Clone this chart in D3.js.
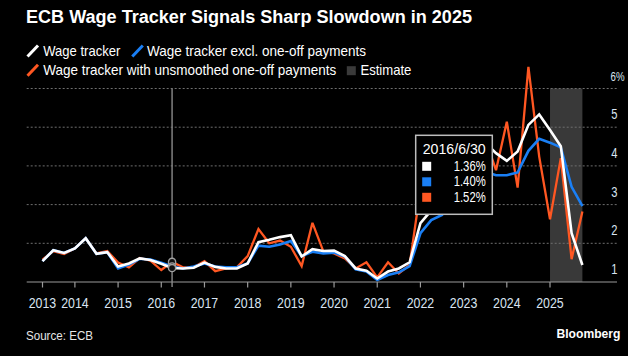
<!DOCTYPE html>
<html>
<head>
<meta charset="utf-8">
<script src="https://cdn.jsdelivr.net/npm/d3@7"></script>
<style>
  html, body { margin: 0; padding: 0; background: #000; }
  svg { display: block; }
  .lab { font-family: "Liberation Sans", Arial, sans-serif; }
</style>
</head>
<body>
<svg id="chart" width="628" height="356"></svg>
<script>
// ---------------- DATA ----------------
const quarters = [
  "2013Q2","2013Q3","2013Q4",
  "2014Q1","2014Q2","2014Q3","2014Q4",
  "2015Q1","2015Q2","2015Q3","2015Q4",
  "2016Q1","2016Q2","2016Q3","2016Q4",
  "2017Q1","2017Q2","2017Q3","2017Q4",
  "2018Q1","2018Q2","2018Q3","2018Q4",
  "2019Q1","2019Q2","2019Q3","2019Q4",
  "2020Q1","2020Q2","2020Q3","2020Q4",
  "2021Q1","2021Q2","2021Q3","2021Q4",
  "2022Q1","2022Q2","2022Q3","2022Q4",
  "2023Q1","2023Q2","2023Q3","2023Q4",
  "2024Q1","2024Q2","2024Q3","2024Q4",
  "2025Q1","2025Q2","2025Q3","2025Q4"
];
const wageTracker = [
  1.54,1.82,1.75,
  1.87,2.13,1.73,1.77,
  1.40,1.48,1.61,1.57,
  1.47,1.36,1.35,1.37,
  1.50,1.39,1.35,1.35,
  1.48,2.03,2.09,2.16,
  2.21,1.66,1.85,1.80,
  1.81,1.67,1.35,1.29,
  1.09,1.27,1.35,1.51,
  2.52,2.85,3.30,3.85,
  4.25,4.45,4.60,4.33,
  4.13,4.37,5.06,5.33,
  4.93,4.51,2.26,1.44
];
const wageExclOneOff = [
  1.54,1.82,1.75,
  1.87,2.13,1.73,1.77,
  1.35,1.45,1.60,1.58,
  1.50,1.40,1.35,1.40,
  1.48,1.40,1.38,1.38,
  1.48,1.94,1.91,1.97,
  2.06,1.67,1.78,1.74,
  1.76,1.66,1.33,1.27,
  1.05,1.18,1.25,1.41,
  2.26,2.60,2.73,3.10,
  3.40,3.60,3.85,3.76,
  3.76,3.83,4.39,4.70,
  4.60,4.48,3.46,2.96
];
const wageUnsmoothed = [
  1.58,1.80,1.72,
  1.87,2.13,1.74,1.80,
  1.50,1.38,1.62,1.55,
  1.31,1.52,1.38,1.38,
  1.54,1.28,1.35,1.38,
  1.67,2.37,2.00,2.07,
  1.91,1.41,2.53,1.80,
  1.74,1.61,1.35,1.51,
  1.12,1.51,1.22,1.44,
  3.40,3.00,3.70,4.30,
  3.90,4.50,4.70,3.89,
  5.14,3.44,6.56,4.24,
  2.62,4.20,1.59,2.82
];
const seriesNames = [
  "Wage tracker",
  "Wage tracker excl. one-off payments",
  "Wage tracker with unsmoothed one-off payments"
];
const estimateLabel = "Estimate";
const estimateStart = "2025Q1";
const xTickYears = [2013,2014,2015,2016,2017,2018,2019,2020,2021,2022,2023,2024,2025];
const yTicks = [1,2,3,4,5,6];
const hoverQuarter = "2016Q2";
const hoverDateLabel = "2016/6/30";
const titleText = "ECB Wage Tracker Signals Sharp Slowdown in 2025";
const sourceText = "Source: ECB";
const brandText = "Bloomberg";

// ---------------- HELPERS ----------------
const qToT = q => +q.slice(0,4) + (+q.slice(5) - 1) / 4;
const tVals = quarters.map(qToT);
// condense a text to a given width (reference uses a narrow font)
function fit(sel, w) {
  return sel.attr("textLength", w).attr("lengthAdjust", "spacingAndGlyphs");
}

const svg = d3.select("#chart");
const W = 628, H = 356;
svg.append("rect").attr("width", W).attr("height", H).attr("fill", "#000");

const plotLeft = 26.7, plotRight = 617;
const x = d3.scaleLinear()
  .domain([tVals[0], tVals[tVals.length - 1]])
  .range([42.5, 582.4]);
const y = d3.scaleLinear().domain([1, 6]).range([282, 88.5]);

const labelColor = "#d9e4f2";
const colors = ["#ffffff", "#1a7ff5", "#ff5722"];

// estimate shading
const estT0 = qToT(estimateStart);
svg.append("rect")
  .attr("x", x(estT0))
  .attr("y", y(6))
  .attr("width", x(tVals[tVals.length - 1]) - x(estT0))
  .attr("height", y(1) - y(6))
  .attr("fill", "#393939");

// gridlines
svg.append("g").selectAll("line")
  .data(yTicks.filter(v => v > 1))
  .join("line")
  .attr("x1", plotLeft).attr("x2", plotRight)
  .attr("y1", d => y(d)).attr("y2", d => y(d))
  .attr("stroke", "#6e6e6e")
  .attr("stroke-width", 1)
  .attr("stroke-dasharray", "2,2");

// y labels (right side, above gridlines)
const yl = svg.append("g").attr("class", "lab").attr("fill", labelColor);
yTicks.forEach(v => {
  const isTop = v === yTicks[yTicks.length - 1];
  fit(yl.append("text")
    .attr("x", isTop ? 610.5 : 611.3).attr("y", y(v) - 8)
    .attr("font-size", isTop ? 12 : 15)
    .text(isTop ? v + "%" : v), isTop ? 14 : 6.2);
});

// x axis
const xTickPos = xTickYears.map(yr => (yr === xTickYears[0] ? tVals[0] : yr));
const axisG = svg.append("g").attr("transform", `translate(0,${y(1)})`);
axisG.append("line")
  .attr("x1", plotLeft).attr("x2", plotRight)
  .attr("stroke", "#9a9a9a").attr("stroke-width", 1.2);
axisG.selectAll("line.tick")
  .data(xTickPos)
  .join("line").attr("class", "tick")
  .attr("x1", d => x(d)).attr("x2", d => x(d))
  .attr("y1", 0).attr("y2", 5.5)
  .attr("stroke", "#9a9a9a").attr("stroke-width", 1.2);
fit(axisG.selectAll("text")
  .data(xTickYears)
  .join("text")
  .attr("class", "lab")
  .attr("x", (d, i) => x(xTickPos[i]))
  .attr("y", 26)
  .attr("text-anchor", "middle")
  .attr("font-size", 15)
  .attr("fill", labelColor)
  .text(d => d), 27.5);

// hover vertical line
const hi = quarters.indexOf(hoverQuarter);
svg.append("line")
  .attr("x1", x(tVals[hi])).attr("x2", x(tVals[hi]))
  .attr("y1", y(6)).attr("y2", y(1) + 5)
  .attr("stroke", "#8a8a8a").attr("stroke-width", 1.4);

// lines
const allSeries = [wageTracker, wageExclOneOff, wageUnsmoothed];
const widths = [2.6, 2.6, 2.3];
const line = d3.line().x((d, i) => x(tVals[i])).y(d => y(d));
[2, 1, 0].forEach(k => {
  svg.append("path")
    .datum(allSeries[k])
    .attr("d", line)
    .attr("fill", "none")
    .attr("stroke", colors[k])
    .attr("stroke-width", widths[k])
    .attr("stroke-linejoin", "miter")
    .attr("stroke-miterlimit", 3);
});

// hover circles
[2, 1, 0].forEach(k => {
  svg.append("circle")
    .attr("cx", x(tVals[hi])).attr("cy", y(allSeries[k][hi]))
    .attr("r", 3.6)
    .attr("fill", "#111")
    .attr("stroke", "#a0a0a0")
    .attr("stroke-width", 1.4);
});

// tooltip
const tip = svg.append("g").attr("transform", "translate(415.7,135.3)");
tip.append("rect")
  .attr("width", 76.6).attr("height", 79)
  .attr("fill", "#000")
  .attr("stroke", "#bdbdbd").attr("stroke-width", 1.5);
fit(tip.append("text").attr("class", "lab")
  .attr("x", 7).attr("y", 19)
  .attr("font-size", 14.5).attr("fill", "#fff")
  .text(hoverDateLabel), 63);
allSeries.forEach((s, k) => {
  tip.append("rect")
    .attr("x", 6.5).attr("y", 26.5 + k * 15.5)
    .attr("width", 9).attr("height", 9)
    .attr("fill", colors[k]);
  fit(tip.append("text").attr("class", "lab")
    .attr("x", 70).attr("y", 35.5 + k * 15.5)
    .attr("text-anchor", "end")
    .attr("font-size", 14.5).attr("fill", "#fff")
    .text(s[hi].toFixed(2) + "%"), 32);
});

// title
fit(svg.append("text")
  .attr("x", 26).attr("y", 23)
  .attr("font-family", "'Liberation Sans', Arial, sans-serif")
  .attr("font-weight", "bold")
  .attr("font-size", 17.5)
  .attr("fill", "#fff")
  .text(titleText), 446);

// legend
const lg = svg.append("g").attr("class", "lab").attr("font-size", 14.5).attr("fill", "#fff");
function slash(x0, yBase, color) {
  lg.append("line")
    .attr("x1", x0).attr("y1", yBase)
    .attr("x2", x0 + 10.5).attr("y2", yBase - 11)
    .attr("stroke", color).attr("stroke-width", 3);
}
slash(27.5, 56.5, colors[0]);
fit(lg.append("text").attr("x", 43.3).attr("y", 56).text(seriesNames[0]), 77);
slash(132.3, 56.5, colors[1]);
fit(lg.append("text").attr("x", 147).attr("y", 56).text(seriesNames[1]), 219);
slash(27.5, 75.8, colors[2]);
fit(lg.append("text").attr("x", 43.3).attr("y", 75.3).text(seriesNames[2]), 293);
lg.append("rect").attr("x", 346.8).attr("y", 66.2).attr("width", 9).attr("height", 9).attr("fill", "#3a3a3a");
fit(lg.append("text").attr("x", 360.4).attr("y", 75.3).text(estimateLabel), 51);

// footer
fit(svg.append("text").attr("class", "lab")
  .attr("x", 26).attr("y", 340)
  .attr("font-size", 13.5).attr("fill", "#e6e6e6")
  .text(sourceText), 67);
fit(svg.append("text")
  .attr("x", 556.5).attr("y", 338)
  .attr("font-family", "'Liberation Sans', Arial, sans-serif")
  .attr("font-weight", "bold")
  .attr("font-size", 13)
  .attr("fill", "#fff")
  .text(brandText), 64);
</script>
</body>
</html>
